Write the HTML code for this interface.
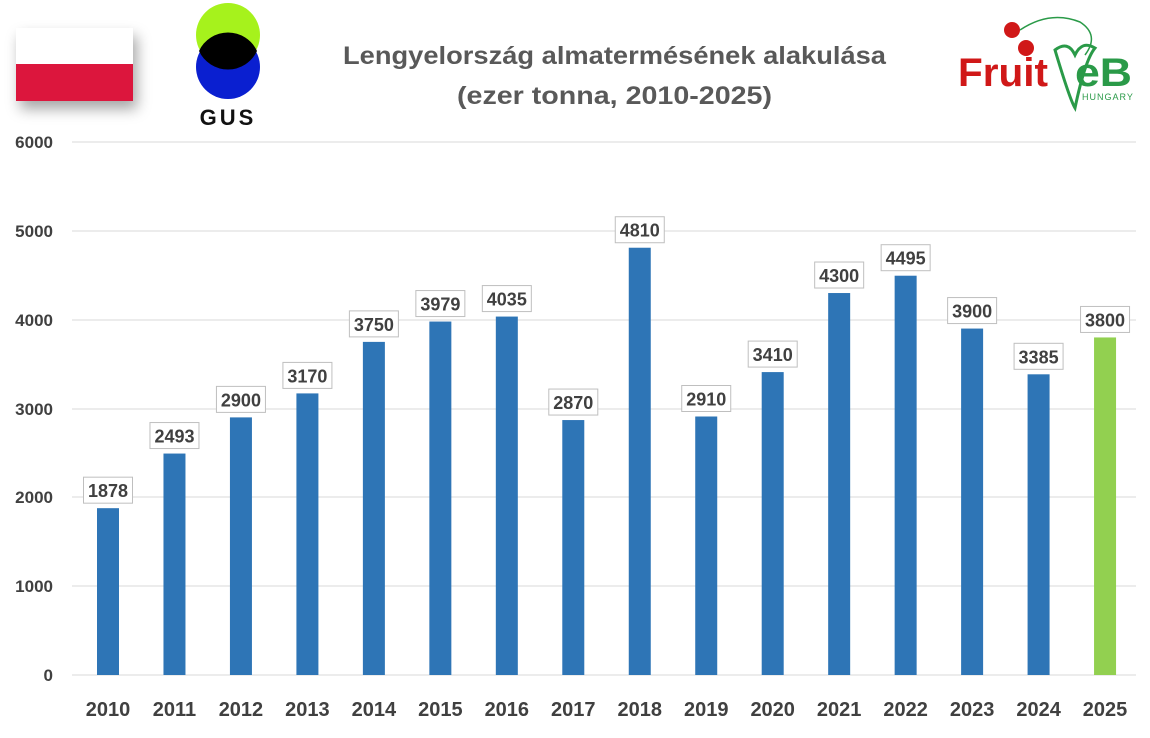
<!DOCTYPE html><html><head><meta charset="utf-8"><style>
body{margin:0;width:1150px;height:733px;background:#fff;overflow:hidden;font-family:"Liberation Sans",sans-serif}
</style></head><body>
<svg width="1150" height="733" xmlns="http://www.w3.org/2000/svg" font-family="Liberation Sans, sans-serif">
<defs><filter id="sh" x="-30%" y="-30%" width="160%" height="180%"><feDropShadow dx="4" dy="8" stdDeviation="7" flood-color="#000" flood-opacity="0.35"/></filter></defs>
<g filter="url(#sh)"><rect x="16" y="28" width="117" height="73" fill="#fff"/><rect x="16" y="64" width="117" height="37" fill="#dc143c"/></g>
<circle cx="228" cy="35" r="32" fill="#a6f21c"/>
<circle cx="228" cy="67" r="32" fill="#0a1fd0"/>
<path d="M199 51 A32 32 0 0 1 257 51 A32 32 0 0 1 199 51Z" fill="#000"/>
<text x="228" y="125" text-anchor="middle" font-size="22" font-weight="bold" fill="#111" letter-spacing="3">GUS</text>
<text x="343" y="64" font-size="25" font-weight="bold" fill="#595959" textLength="543" lengthAdjust="spacingAndGlyphs">Lengyelország almatermésének alakulása</text>
<text x="457" y="104" font-size="25" font-weight="bold" fill="#595959" textLength="315" lengthAdjust="spacingAndGlyphs">(ezer tonna, 2010-2025)</text>
<circle cx="1012" cy="30" r="8" fill="#d01818"/><circle cx="1026" cy="48" r="8" fill="#d01818"/>
<path d="M1020 30 Q1050 10 1080 22 Q1100 35 1085 55" fill="none" stroke="#2a9a48" stroke-width="1.5"/>
<path d="M1055 50 Q1070 100 1075 108 Q1085 60 1095 48 Q1082 40 1075 55 Q1068 40 1055 50Z" fill="none" stroke="#2a9a48" stroke-width="3"/>
<text x="958" y="86" font-size="40" font-weight="bold" fill="#d01818" textLength="90" lengthAdjust="spacingAndGlyphs">Fruit</text>
<text x="1075" y="86" font-size="40" font-weight="bold" fill="#2a9a48" textLength="57" lengthAdjust="spacingAndGlyphs">eB</text>
<text x="1082" y="100" font-size="9" fill="#2a9a48" letter-spacing="1">HUNGARY</text>
<g stroke="#d9d9d9" stroke-width="1">
<line x1="72" x2="1136" y1="142" y2="142"/><line x1="72" x2="1136" y1="231" y2="231"/><line x1="72" x2="1136" y1="320" y2="320"/><line x1="72" x2="1136" y1="409" y2="409"/><line x1="72" x2="1136" y1="497" y2="497"/><line x1="72" x2="1136" y1="586" y2="586"/><line x1="72" x2="1136" y1="675" y2="675"/>
</g>
<g font-size="17" font-weight="bold" fill="#404040" text-anchor="end">
<text x="53" y="148">6000</text><text x="53" y="237">5000</text><text x="53" y="326">4000</text><text x="53" y="415">3000</text><text x="53" y="503">2000</text><text x="53" y="592">1000</text><text x="53" y="681">0</text>
</g>
<g id="bars"></g>
</svg>
<script>
var v=[1878,2493,2900,3170,3750,3979,4035,2870,4810,2910,3410,4300,4495,3900,3385,3800];
var g=document.getElementById('bars'),s='';
for(var i=0;i<16;i++){var cx=108+i*66.47,y=675-v[i]*0.08883;
s+='<rect x="'+(cx-11)+'" y="'+y+'" width="22" height="'+(675-y)+'" fill="'+(i==15?'#92d050':'#2e75b6')+'"/>';
s+='<rect x="'+(cx-24.5)+'" y="'+(y-31)+'" width="49" height="26" fill="#fff" stroke="#bfbfbf"/>';
s+='<text x="'+cx+'" y="'+(y-11)+'" text-anchor="middle" font-size="18" font-weight="bold" fill="#404040">'+v[i]+'</text>';
s+='<text x="'+cx+'" y="716" text-anchor="middle" font-size="20" font-weight="bold" fill="#404040">'+(2010+i)+'</text>';}
g.innerHTML=s;
</script>
</body></html>
